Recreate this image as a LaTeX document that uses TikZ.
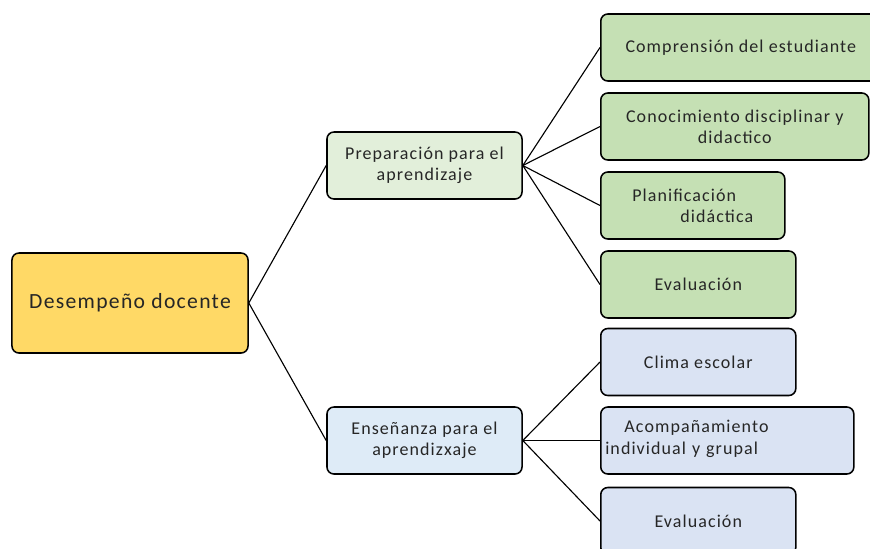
\documentclass[tikz,border=0pt]{standalone}
\usepackage{fontspec}
\setmainfont{Carlito}[LetterSpace=6]
\usepackage{xcolor}
\usetikzlibrary{positioning}
\definecolor{rootfill}{HTML}{FFD966}
\definecolor{prepfill}{HTML}{E2EFDA}
\definecolor{prepkid}{HTML}{C5E0B4}
\definecolor{ensfill}{HTML}{DEEBF7}
\definecolor{enskid}{HTML}{DAE3F3}
\definecolor{inktext}{HTML}{262626}

\begin{document}
\begin{tikzpicture}[
  x=0.025cm,y=-0.025cm,
  box/.style={draw=black,line width=1.1pt,rounded corners=5pt,
              minimum height=1.675cm,align=center,text=inktext,
              font=\fontsize{12.8}{15}\selectfont,inner sep=2pt},
  root/.style={box,fill=rootfill,minimum width=5.9cm,minimum height=2.5cm,
               font=\fontsize{15.4}{19}\selectfont},
  mid/.style={box,minimum width=4.875cm},
  kid/.style={box,anchor=west},
  link/.style={draw=black,line width=0.8pt},
]
\useasboundingbox (0,0) rectangle (870,548);

\node[root] (desem) at (130,303) {Desempeño docente};

\node[mid,fill=prepfill] (prep) at (424.5,165.5) {Preparación para el\\aprendizaje};
\node[mid,fill=ensfill]  (ens)  at (424.5,440.5) {Enseñanza para el\\aprendizxaje};

% preparacion
\node[kid,fill=prepkid,minimum width=7cm]     (compr)  at (600,47.5)  {Comprensión del estudiante};
\node[kid,fill=prepkid,minimum width=6.7cm]   (conoc)  at (600,126.5) {Conocimiento disciplinar y\\didactico};
\node[kid,fill=prepkid,minimum width=4.6cm,align=left] (planif) at (600,205.5)
  {Planificación\\\hspace*{1.2cm}didáctica};
\node[kid,fill=prepkid,minimum width=4.875cm] (evalA)  at (600,284.5) {Evaluación};

% ensenanza
\node[kid,fill=enskid,minimum width=6.325cm,text width=6.1cm,align=left,inner sep=1.5pt]
  (acomp) at (600,440.5) {\hspace*{0.48cm}Acompañamiento\\individual y grupal\strut};
\node[kid,fill=enskid,minimum width=4.875cm]  (clima)  at (600,362)   {Clima escolar};
\node[kid,fill=enskid,minimum width=4.875cm]  (evalB)  at (600,521) {Evaluación};

\draw[link] (desem.east) -- (prep.west);
\draw[link] (desem.east) -- (ens.west);

\foreach \k in {compr,conoc,planif,evalA}
  \draw[link] (prep.east) -- (\k.west);
\foreach \k in {clima,acomp,evalB}
  \draw[link] (ens.east) -- (\k.west);
\end{tikzpicture}
\end{document}
